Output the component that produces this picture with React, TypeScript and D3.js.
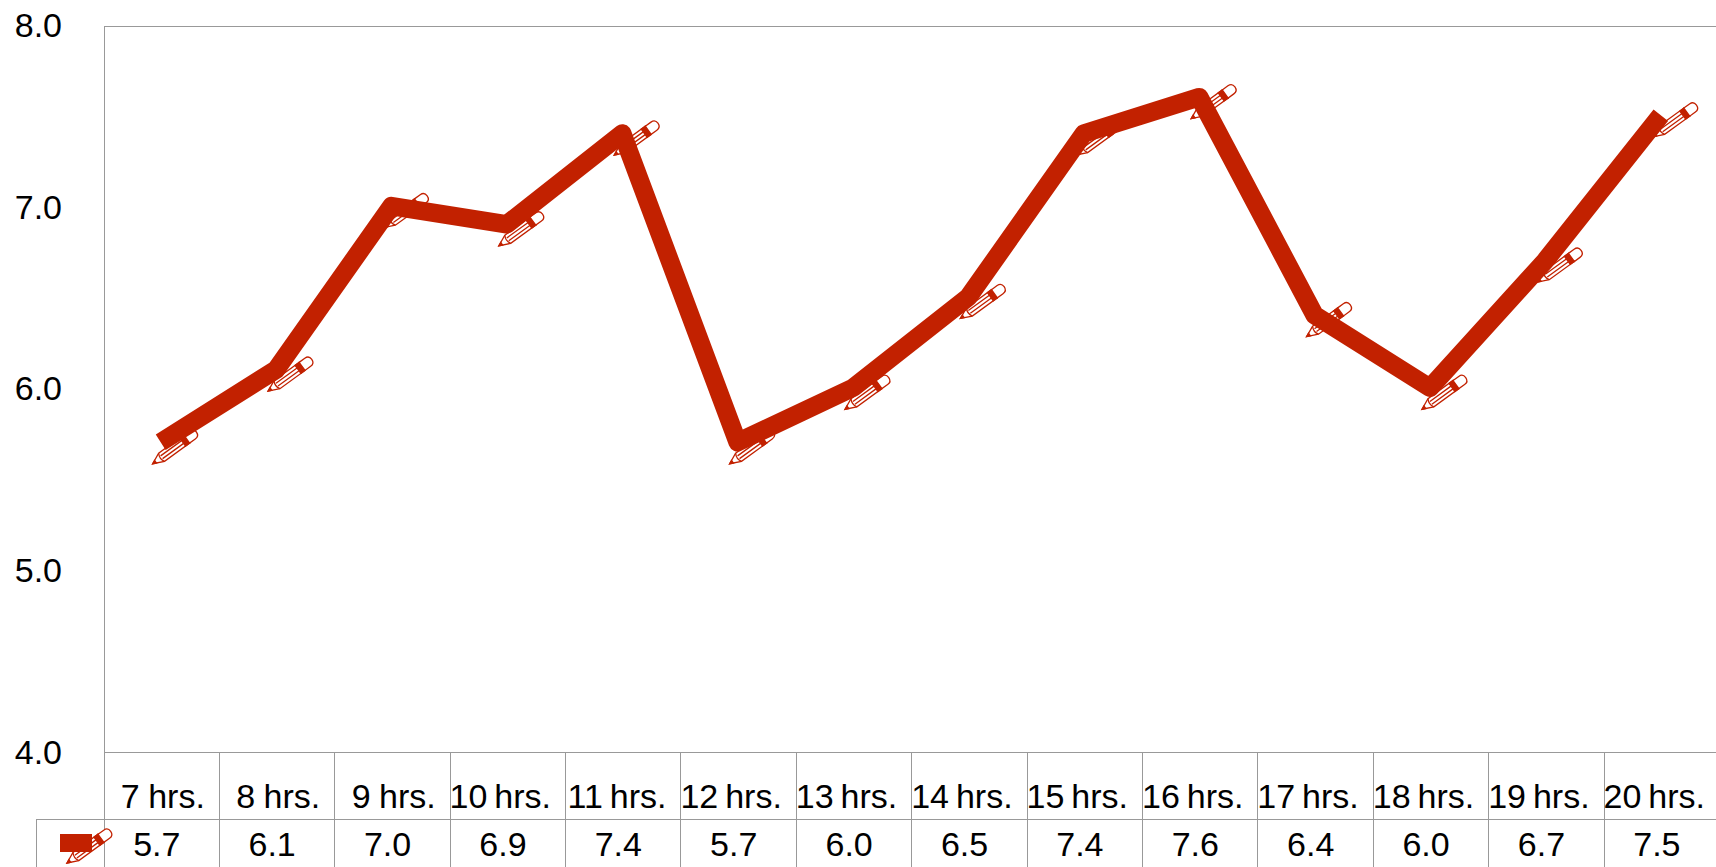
import * as d3 from 'd3';

const categories = ['7 hrs.', '8 hrs.', '9 hrs.', '10 hrs.', '11 hrs.', '12 hrs.', '13 hrs.', '14 hrs.', '15 hrs.', '16 hrs.', '17 hrs.', '18 hrs.', '19 hrs.', '20 hrs.'];
const values = [5.7, 6.1, 7.0, 6.9, 7.4, 5.7, 6.0, 6.5, 7.4, 7.6, 6.4, 6.0, 6.7, 7.5];
const yTicks = [4, 5, 6, 7, 8];

const WIDTH = 1716;
const HEIGHT = 867;
const LEFT = 104;
const TOP = 26;
const BOTTOM = 752.5;
const ROW = 819;
const TABLE_LEFT = 36;
const RED = '#c22100';
const GRID = '#999';
const FONT = '"Liberation Sans", Arial, sans-serif';
const FONT_SIZE = 34;

// the last table cell runs a little past the edge of the picture
const x = d3.scaleBand<string>().domain(categories).range([LEFT, 1719.5]);
const y = d3.scaleLinear().domain([4, 8]).range([BOTTOM, TOP]);

// marker: tip sits lower-left of the data point, drawn along its own axis
function Pencil({ cx, cy }: { cx: number; cy: number }) {
  return (
    <g transform={`translate(${cx - 9},${cy + 20}) rotate(-36)`} fill="#fff" stroke={RED} strokeWidth={1.3}>
      <path d="M0,0 L11,-5 L42,-5 L42,5 L11,5 Z" />
      <path d="M0,0 L3.5,-1.6 L3.5,1.6 Z" fill={RED} />
      <path d="M11,-5 Q8,0 11,5" fill="none" />
      <path d="M11,-1.7 L37,-1.7 M11,1.7 L37,1.7" fill="none" />
      <rect x={37} y={-5} width={5} height={10} fill={RED} />
      <path d="M42,-5 L49,-5 Q54,-5 54,0 Q54,5 49,5 L42,5 Z" />
    </g>
  );
}

export default function App() {
  const cx = (c: string) => (x(c) as number) + x.bandwidth() / 2;
  const cellRight = (c: string) => (x(c) as number) + x.bandwidth();
  const line = d3.line<number>()
    .x((_, i) => cx(categories[i]) - 1)
    .y(d => y(d) - 1.5);

  return (
    <svg width={WIDTH} height={HEIGHT} style={{ position: 'absolute', left: 0, top: 0, display: 'block' }} fontFamily={FONT} fontSize={FONT_SIZE}>
      <rect width={WIDTH} height={HEIGHT} fill="#fff" />

      {/* plot frame and data table */}
      <g stroke={GRID} strokeWidth={1} shapeRendering="crispEdges">
        <line x1={LEFT} x2={WIDTH} y1={TOP} y2={TOP} />
        <line x1={LEFT} x2={LEFT} y1={TOP} y2={HEIGHT} />
        <line x1={LEFT} x2={WIDTH} y1={y(4)} y2={y(4)} />
        <line x1={TABLE_LEFT} x2={WIDTH} y1={ROW} y2={ROW} />
        <line x1={TABLE_LEFT} x2={TABLE_LEFT} y1={ROW} y2={HEIGHT} />
        {categories.slice(1).map(c => (
          <line key={c} x1={x(c)} x2={x(c)} y1={y(4)} y2={HEIGHT} />
        ))}
      </g>

      {/* y axis */}
      {yTicks.map(t => (
        <text key={t} x={62} y={y(t) + 11} textAnchor="end" fill="#000">{t.toFixed(1)}</text>
      ))}

      {/* markers under the line */}
      {values.map((v, i) => (
        <Pencil key={categories[i]} cx={cx(categories[i])} cy={y(v)} />
      ))}
      <path d={line(values) ?? ''} fill="none" stroke={RED} strokeWidth={18.5} strokeLinejoin="round" />

      {/* data table */}
      {categories.map((c, i) => (
        <g key={c} textAnchor="end" fill="#000">
          <text x={cellRight(c) - 14.5} y={808} wordSpacing={c.length > 6 ? -2.5 : -1}>{c}</text>
          <text x={cellRight(c) - 39} y={856}>{values[i].toFixed(1)}</text>
        </g>
      ))}

      {/* legend key */}
      <Pencil cx={76} cy={843} />
      <rect x={60} y={834} width={32} height={18} fill={RED} />
    </svg>
  );
}
